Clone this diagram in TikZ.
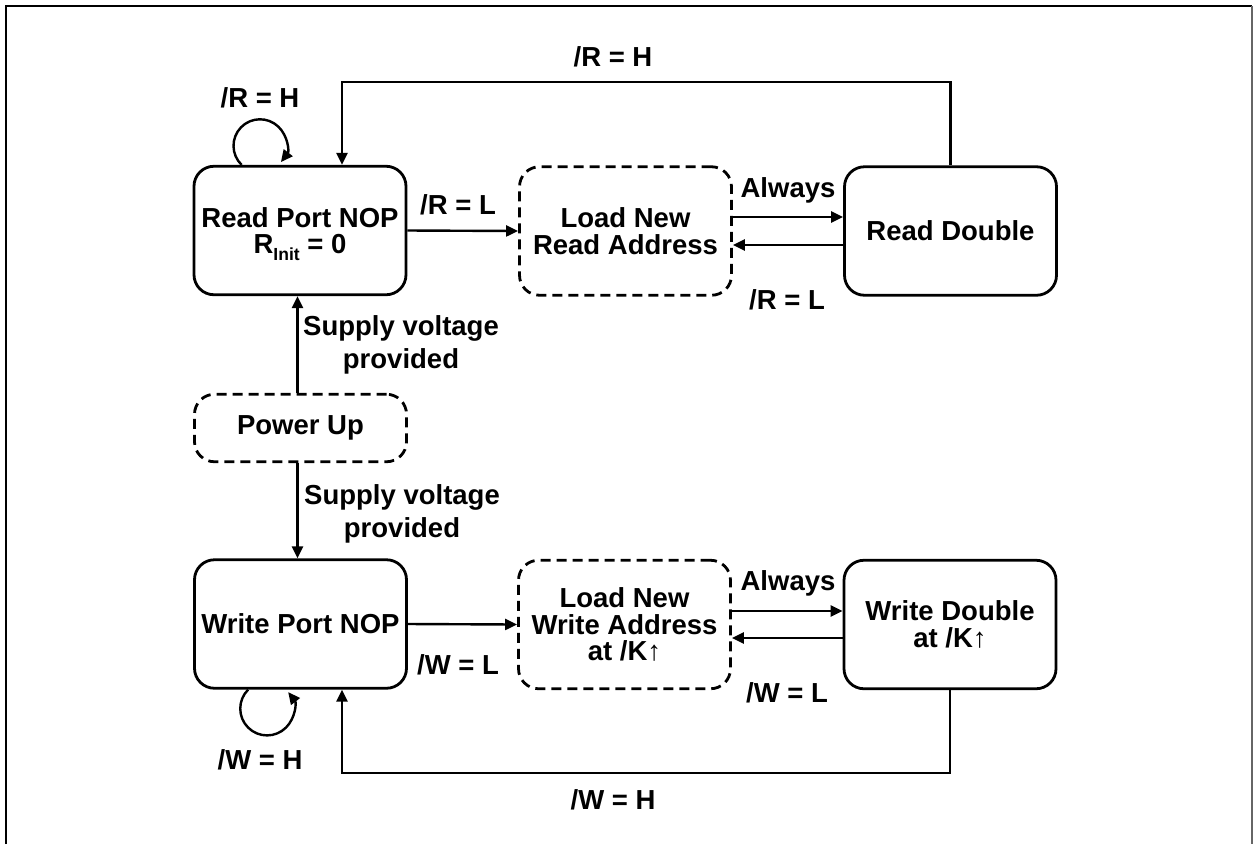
\documentclass[tikz,border=0pt]{standalone}
\usepackage{fontspec}
\setmainfont{Liberation Sans}
\usetikzlibrary{arrows.meta}
\begin{document}
\begin{tikzpicture}[x=1pt,y=-1pt,
  state/.style={draw, line width=2.8pt, rounded corners=20pt, minimum width=212pt, minimum height=128.5pt, align=center, inner sep=0pt, font=\fontsize{27.5}{26.5}\selectfont\bfseries},
  tstate/.style={state, dash pattern=on 10pt off 6pt},
  lbl/.style={align=center, inner sep=0pt, font=\fontsize{27.5}{33}\selectfont\bfseries},
  arr/.style={line width=2.4pt, -{Triangle[length=12pt,width=11pt]}},
  ln/.style={line width=2.4pt}
]
\useasboundingbox (0,0) rectangle (1257,844);
% frame
\draw[line width=2.6pt] (6,844) -- (6,6) -- (1252,6);
\draw[line width=1.6pt, black!60] (1252,6) -- (1252,844);

% states
\node[state] (rpn) at (300,230.5) {Read Port NOP\\R\smash{\raisebox{-7pt}{\fontsize{17.5}{17}\selectfont Init}} = 0};
\node[tstate] (lnra) at (625.5,231) {Load New\\Read Address};
\node[state] (rd) at (950.5,231) {Read Double};
\node[tstate, minimum height=67.5pt] (pu) at (300.5,428) {Power Up};
\node[state] (wpn) at (300.5,624) {Write Port NOP};
\node[tstate] (lnwa) at (624.5,624.5) {Load New\\Write Address\\at /K↑};
\node[state] (wd) at (950,624.5) {Write Double\\at /K↑};

% coordinates
\coordinate (tl) at (342,82);
\coordinate (bl) at (342,773);

% connectors
\draw[arr] ([xshift=-3pt]pu.north) -- ([xshift=-3pt]pu.north |- rpn.south);
\draw[arr] ([xshift=-3pt]pu.south) -- ([xshift=-3pt]pu.south |- wpn.north);
\draw[arr] (rpn.east) -- (lnra.west);
\draw[arr] ([yshift=14pt]lnra.east) -- ([yshift=14pt]rd.west);
\draw[arr] ([yshift=-14pt]rd.west) -- ([yshift=-14pt]lnra.east);
\draw[arr] (rd.north) |- (tl) -- (tl |- rpn.north);
\draw[arr] (wpn.east) -- (lnwa.west);
\draw[arr] ([yshift=13.5pt]lnwa.east) -- ([yshift=13.5pt]wd.west);
\draw[arr] ([yshift=-13.5pt]wd.west) -- ([yshift=-13.5pt]lnwa.east);
\draw[arr] (wd.south) |- (bl) -- (bl |- wpn.south);
% self loops
\draw[arr] ([xshift=49pt]rpn.north west) arc[start angle=226, end angle=-38, radius=26.5pt];
\draw[arr] ([xshift=55pt]wpn.south west) arc[start angle=135, end angle=398, radius=26.8pt];

% labels
\node[lbl] (l1) at (260,98) {/R = H};
\node[lbl] (l2) at (613,57) {/R = H};
\node[lbl] (l3) at (458,205) {/R = L};
\node[lbl] (l4) at (788,190) {Always};
\node[lbl] (l5) at (787,300) {/R = L};
\node[lbl] (l6) at (401,345) {Supply voltage\\provided};
\node[lbl] (l7) at (402,514) {Supply voltage\\provided};
\node[lbl] (l8) at (458,665) {/W = L};
\node[lbl] (l9) at (788,583) {Always};
\node[lbl] (l10) at (787,693) {/W = L};
\node[lbl] (l11) at (260,760) {/W = H};
\node[lbl] (l12) at (613,800) {/W = H};
\end{tikzpicture}
\end{document}
